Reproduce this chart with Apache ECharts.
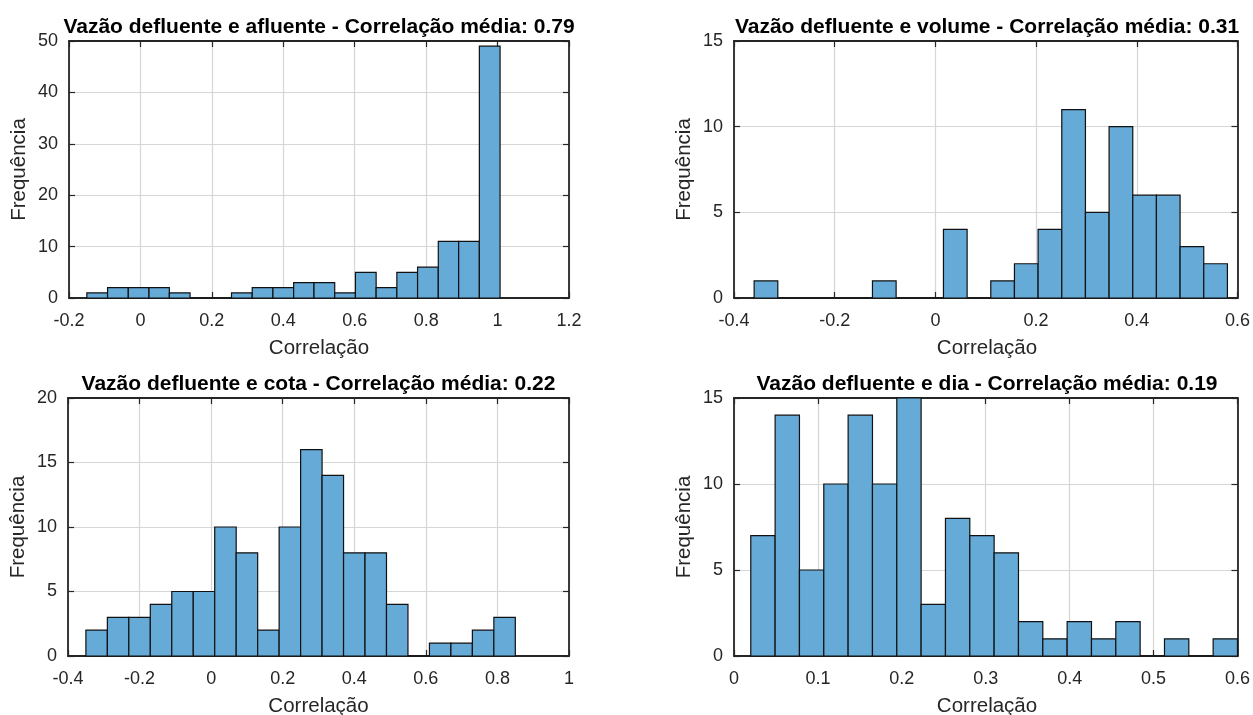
<!DOCTYPE html>
<html>
<head>
<meta charset="utf-8">
<script src="https://cdn.jsdelivr.net/npm/echarts@6/dist/echarts.min.js"></script>
<style>
  html, body { margin: 0; padding: 0; background: #fff; }
  #chart { width: 1253px; height: 715px; }
</style>
</head>
<body>
<div id="chart"></div>
<script>
// bin edges and counts
const edgesAfluente = [-0.150, -0.092, -0.034, 0.024, 0.081, 0.139, 0.197, 0.255, 0.313, 0.371, 0.429,
  0.486, 0.544, 0.602, 0.660, 0.718, 0.776, 0.834, 0.891, 0.949, 1.007];
const countsAfluente = [1, 2, 2, 2, 1, 0, 0, 1, 2, 2, 3, 3, 1, 5, 2, 5, 6, 11, 11, 49];

const edgesVolume = [-0.360, -0.313, -0.266, -0.219, -0.172, -0.125, -0.078, -0.031, 0.016, 0.063, 0.110,
  0.157, 0.204, 0.251, 0.298, 0.345, 0.392, 0.439, 0.486, 0.533, 0.580];
const countsVolume = [1, 0, 0, 0, 0, 1, 0, 0, 4, 0, 1, 2, 4, 11, 5, 10, 6, 6, 3, 2];

const edgesCota = [-0.35, -0.29, -0.23, -0.17, -0.11, -0.05, 0.01, 0.07, 0.13, 0.19, 0.25,
  0.31, 0.37, 0.43, 0.49, 0.55, 0.61, 0.67, 0.73, 0.79, 0.85];
const countsCota = [2, 3, 3, 4, 5, 5, 10, 8, 2, 10, 16, 14, 8, 8, 4, 0, 1, 1, 2, 3];

const edgesDia = [0.020, 0.049, 0.078, 0.107, 0.136, 0.165, 0.194, 0.223, 0.252, 0.281, 0.310,
  0.339, 0.368, 0.397, 0.426, 0.455, 0.484, 0.513, 0.542, 0.571, 0.600];
const countsDia = [7, 14, 5, 10, 14, 10, 15, 3, 8, 7, 6, 2, 1, 2, 1, 2, 0, 1, 0, 1];

const titles = [
  'Vazão defluente e afluente - Correlação média: 0.79',
  'Vazão defluente e volume - Correlação média: 0.31',
  'Vazão defluente e cota - Correlação média: 0.22',
  'Vazão defluente e dia - Correlação média: 0.19',
];
const xLimits = [[-0.2, 1.2, 0.2], [-0.4, 0.6, 0.2], [-0.4, 1.0, 0.2], [0, 0.6, 0.1]];
const yLimits = [[0, 50, 10], [0, 15, 5], [0, 20, 5], [0, 15, 5]];

const panels = [
  { edges: edgesAfluente, counts: countsAfluente, left: 69, top: 41, width: 500, height: 257 },
  { edges: edgesVolume, counts: countsVolume, left: 734, top: 41, width: 506, height: 257 },
  { edges: edgesCota, counts: countsCota, left: 68, top: 398, width: 501, height: 258 },
  { edges: edgesDia, counts: countsDia, left: 734, top: 398, width: 506, height: 258 },
];

const font = '"Liberation Sans", Arial, Helvetica, sans-serif';
const axisColor = '#262626';
const barColor = 'rgb(102, 170, 215)';

const chart = echarts.init(document.getElementById('chart'));

const grid = [];
const xAxis = [];
const yAxis = [];
const series = [];
const graphic = [];

panels.forEach((p, i) => {
  grid.push({ left: p.left, top: p.top, width: p.width, height: p.height, containLabel: false });
  const [xmin, xmax, xint] = xLimits[i];
  const [ymin, ymax, yint] = yLimits[i];
  const tickLine = { show: true, inside: true, length: 6, lineStyle: { color: axisColor, width: 1.2 } };
  const mainLine = { show: true, onZero: false, lineStyle: { color: axisColor, width: 1.8 } };

  xAxis.push({
    type: 'value', gridIndex: i, min: xmin, max: xmax, interval: xint, position: 'bottom',
    axisLine: mainLine,
    axisTick: tickLine,
    axisLabel: {
      color: axisColor, fontSize: 18, fontFamily: font, margin: 14,
      formatter: (v) => String(+v.toFixed(2)),
    },
    splitLine: { show: true, lineStyle: { color: '#d6d6d6', width: 1.2 } },
  });
  xAxis.push({
    type: 'value', gridIndex: i, min: xmin, max: xmax, interval: xint, position: 'top',
    axisLine: mainLine, axisTick: tickLine, axisLabel: { show: false }, splitLine: { show: false },
  });
  yAxis.push({
    type: 'value', gridIndex: i, min: ymin, max: ymax, interval: yint, position: 'left',
    axisLine: mainLine,
    axisTick: tickLine,
    axisLabel: { color: axisColor, fontSize: 18, fontFamily: font, margin: 11 },
    splitLine: { show: true, lineStyle: { color: '#d6d6d6', width: 1.2 } },
  });
  yAxis.push({
    type: 'value', gridIndex: i, min: ymin, max: ymax, interval: yint, position: 'right',
    axisLine: mainLine, axisTick: tickLine, axisLabel: { show: false }, splitLine: { show: false },
  });

  const data = p.counts.map((c, k) => [p.edges[k], p.edges[k + 1], c]);
  series.push({
    type: 'custom',
    xAxisIndex: i * 2,
    yAxisIndex: i * 2,
    data,
    z: 3,
    renderItem(params, api) {
      const a = api.coord([api.value(0), api.value(2)]);
      const b = api.coord([api.value(1), 0]);
      return {
        type: 'rect',
        shape: { x: a[0], y: a[1], width: b[0] - a[0], height: b[1] - a[1] },
        style: { fill: barColor, stroke: '#111', lineWidth: 1.2 },
      };
    },
  });

  const cx = p.left + p.width / 2;
  graphic.push({
    type: 'text', x: cx, y: p.top - 14,
    style: {
      text: titles[i], font: `bold 21px ${font}`, fill: '#000',
      textAlign: 'center', textVerticalAlign: 'middle', align: 'center', verticalAlign: 'middle',
    },
  });
  graphic.push({
    type: 'text', x: cx, y: p.top + p.height + 50,
    style: {
      text: 'Correlação', font: `20.5px ${font}`, fill: axisColor,
      textAlign: 'center', textVerticalAlign: 'middle', align: 'center', verticalAlign: 'middle',
    },
  });
  graphic.push({
    type: 'text', x: p.left - 50, y: p.top + p.height / 2, rotation: Math.PI / 2,
    style: {
      text: 'Frequência', font: `20.5px ${font}`, fill: axisColor,
      textAlign: 'center', textVerticalAlign: 'middle', align: 'center', verticalAlign: 'middle',
    },
  });
});

chart.setOption({
  animation: false,
  backgroundColor: '#fff',
  grid,
  xAxis,
  yAxis,
  series,
  graphic,
});
</script>
</body>
</html>
